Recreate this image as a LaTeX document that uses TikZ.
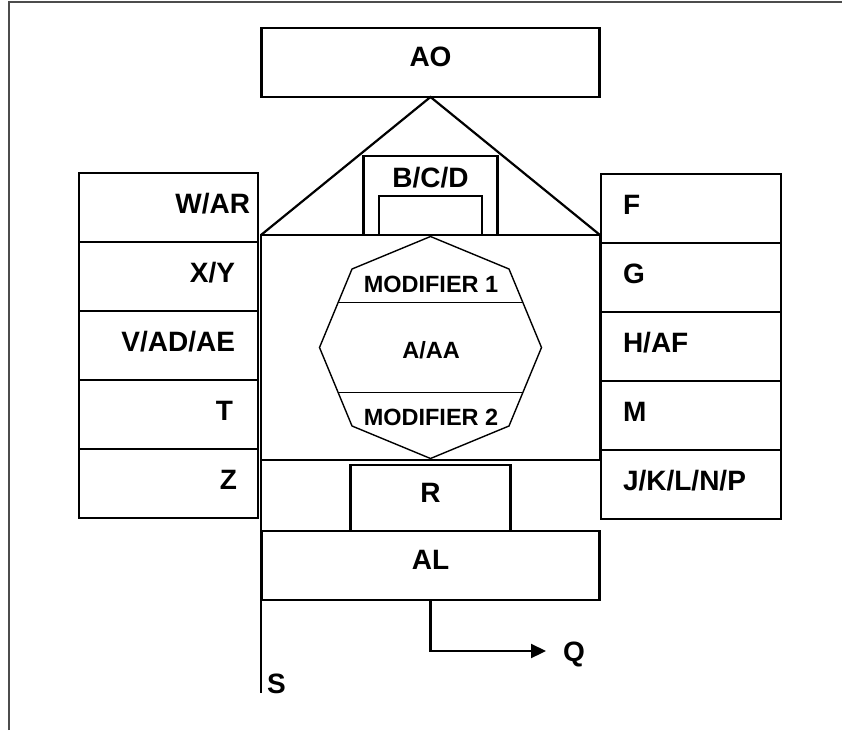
\documentclass[tikz,border=0pt]{standalone}
\usepackage{fontspec}
\setmainfont{Liberation Sans}
\usetikzlibrary{arrows.meta, positioning}
\newcommand{\boxfont}{\fontsize{28}{31}\selectfont\bfseries}
\newcommand{\octfont}{\fontsize{23.5}{26}\selectfont\bfseries}

\begin{document}
\begin{tikzpicture}[
    x=1pt, y=-1pt,
    every node/.style={font=\boxfont, inner sep=0pt, outer sep=0pt},
    thickline/.style={line width=2.2pt},
    thinline/.style={line width=1.4pt},
    box/.style={draw, thickline, text height=20pt, text depth=12pt},
    leftbox/.style={box, minimum height=69pt, text depth=9pt, text width=163pt, inner xsep=8pt, align=right},
    rightbox/.style={box, minimum height=69pt, text depth=9pt, text width=136pt, inner xsep=22pt, align=left},
    tag/.style={text height=20pt, text depth=0pt},
    octtag/.style={font=\octfont, text height=16.8pt, text depth=0pt},
    arrow/.style={-{Triangle[length=15pt, width=14pt]}, thickline},
    frame/.style={line width=1.5pt, color=black!70},
  ]
  \useasboundingbox (0,0) rectangle (842,730);

  % Frame
  \draw[frame] (9,730) -- (9,2) -- (842,2);

  % Central block
  \node[box, minimum width=339pt, minimum height=225pt] (core) at (430.5,347.5) {};
  \node[box, minimum width=338pt, minimum height=69pt] (ao) [above=138pt of core] {AO};

  % Roof
  \draw[thickline] (core.north west) -- (ao.south) -- (core.north east);
  \node[draw, thickline, minimum width=134pt, minimum height=79pt, anchor=south] (bcd) at (core.north) {};
  \node[draw, thickline, minimum width=103pt, minimum height=39pt, anchor=south] (slot) at (core.north) {};
  \node[tag] (bcdtag) [below=11pt of bcd.north] {B/C/D};

  % Octagon
  \draw[thinline] (core.center) +(90:111) -- +(45:111) -- +(0:111) -- +(-45:111)
    -- +(-90:111) -- +(-135:111) -- +(180:111) -- +(135:111) -- cycle;
  \draw[thinline] (core.center) +(-92.4,-45) -- +(92.4,-45);
  \draw[thinline] (core.center) +(-92.4,45) -- +(92.4,45);
  \node[octtag] (mod1) at (431,284) {MODIFIER 1};
  \node[octtag] (aa) at (431,350) {A/AA};
  \node[octtag] (mod2) at (431,417) {MODIFIER 2};

  % Base
  \node[box, minimum width=160pt, minimum height=66pt] (r) [below=5pt of core] {R};
  \node[box, minimum width=338pt, minimum height=69pt] (al) [below=0pt of r] {AL};

  % Left column
  \node[leftbox, anchor=north east] (war) at (258,173) {W/AR};
  \node[leftbox] (xy) [below=0pt of war] {\mbox{X/Y\kern15pt}};
  \node[leftbox] (vadae) [below=0pt of xy] {\mbox{V/AD/AE\kern15pt}};
  \node[leftbox] (t) [below=0pt of vadae] {\mbox{T\kern17pt}};
  \node[leftbox] (z) [below=0pt of t] {\mbox{Z\kern13pt}};

  % Right column
  \node[rightbox, anchor=north west] (f) at (601,174) {F};
  \node[rightbox] (g) [below=0pt of f] {G};
  \node[rightbox] (haf) [below=0pt of g] {H/AF};
  \node[rightbox] (m) [below=0pt of haf] {M};
  \node[rightbox] (jklnp) [below=0pt of m] {J/K/L/N/P};

  % Outputs
  \coordinate (sfoot) at (261,693);
  \draw[thickline] (core.south west) -- (sfoot);
  \node[tag] (s) [above right=0pt and 6pt of sfoot] {S};
  \coordinate (qtip) at (546,651);
  \draw[arrow] (al.south) |- (qtip);
  \node[tag] (q) [right=17pt of qtip] {Q};
\end{tikzpicture}
\end{document}
